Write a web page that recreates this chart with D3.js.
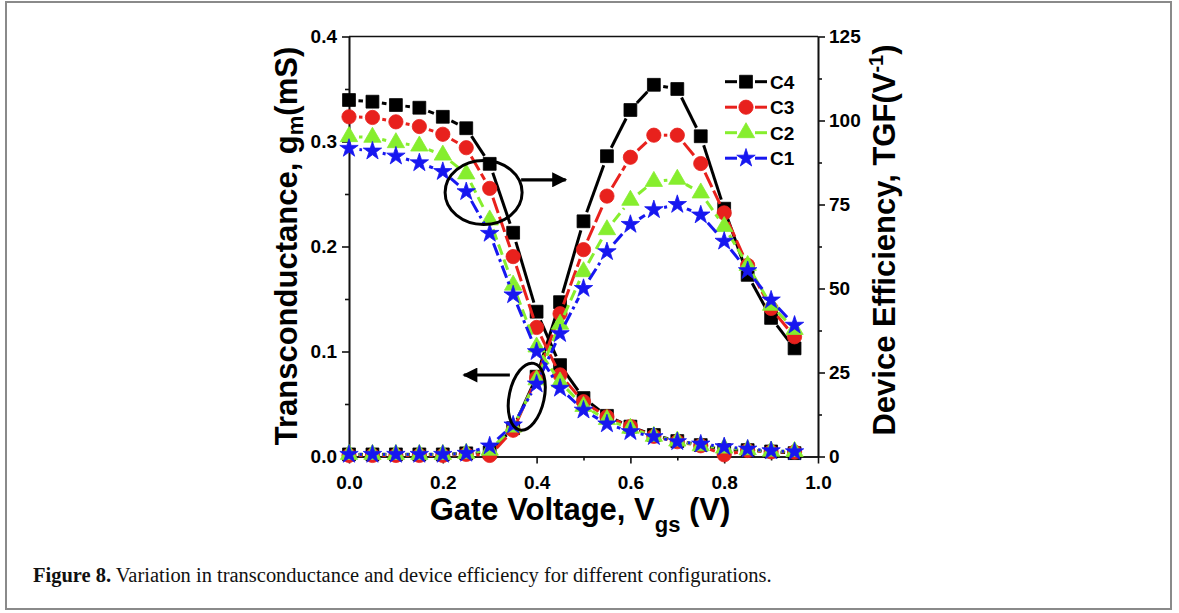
<!DOCTYPE html>
<html>
<head>
<meta charset="utf-8">
<script src="https://cdn.jsdelivr.net/npm/d3@7"></script>
<style>
  html, body { margin: 0; padding: 0; background: #fff; }
  svg { display: block; }
  text.sans { font-family: "Liberation Sans", Arial, sans-serif; }
</style>
</head>
<body>
<svg id="chart" width="1179" height="613"></svg>
<script>
// ---------------- data ----------------
const gateVoltage = [0.00, 0.05, 0.10, 0.15, 0.20, 0.25, 0.30, 0.35, 0.40, 0.45,
                     0.50, 0.55, 0.60, 0.65, 0.70, 0.75, 0.80, 0.85, 0.90, 0.95];

const configNames = ["C4", "C3", "C2", "C1"];

// transconductance gm (mS), left axis
const gmC4 = [0.002, 0.002, 0.002, 0.002, 0.002, 0.003, 0.004, 0.027, 0.076, 0.147,
              0.224, 0.286, 0.330, 0.354, 0.350, 0.305, 0.236, 0.173, 0.132, 0.103];
const gmC3 = [0.001, 0.001, 0.001, 0.001, 0.001, 0.002, 0.001, 0.025, 0.075, 0.136,
              0.197, 0.248, 0.285, 0.306, 0.306, 0.279, 0.232, 0.182, 0.141, 0.114];
const gmC2 = [0.002, 0.002, 0.002, 0.002, 0.002, 0.003, 0.006, 0.028, 0.073, 0.126,
              0.176, 0.216, 0.244, 0.262, 0.264, 0.251, 0.219, 0.182, 0.144, 0.121];
const gmC1 = [0.002, 0.002, 0.002, 0.002, 0.002, 0.003, 0.010, 0.030, 0.069, 0.117,
              0.160, 0.195, 0.221, 0.235, 0.240, 0.230, 0.205, 0.177, 0.149, 0.125];

// device efficiency TGF (1/V), right axis
const tgfC4 = [106.1, 105.6, 104.6, 103.8, 101.1, 97.7, 87.1, 66.6, 43.1, 27.2,
               17.4, 12.1, 8.9, 6.4, 4.6, 3.4, 1.9, 1.9, 1.5, 1.0];
const tgfC3 = [101.1, 100.9, 99.6, 98.2, 95.9, 91.9, 79.8, 59.5, 38.4, 24.3,
               16.3, 11.8, 8.9, 6.0, 4.4, 3.2, 0.5, 1.8, 1.4, 1.3];
const tgfC2 = [95.2, 95.0, 93.4, 92.4, 89.7, 84.1, 70.4, 51.0, 32.6, 22.2,
               14.9, 11.0, 8.4, 6.0, 4.6, 3.2, 2.5, 2.0, 1.6, 1.5];
const tgfC1 = [91.7, 90.9, 89.4, 87.4, 84.8, 78.8, 66.4, 48.1, 31.2, 20.3,
               13.8, 9.7, 7.4, 5.9, 4.4, 3.7, 2.9, 2.2, 1.7, 1.4];

// tick labels
const xTicks = [0.0, 0.2, 0.4, 0.6, 0.8, 1.0];
const xMinorTicks = [0.1, 0.3, 0.5, 0.7, 0.9];
const yLeftTicks = [0.0, 0.1, 0.2, 0.3, 0.4];
const yLeftMinorTicks = [0.05, 0.15, 0.25, 0.35];
const yRightTicks = [0, 25, 50, 75, 100, 125];
const yRightMinorTicks = [12.5, 37.5, 62.5, 87.5, 112.5];

// annotation anchors, in data units (x: V, y: gm mS)
const annoEllipseTGF = { x: 0.287, y: 0.2514 };
const annoArrowTGF = { x1: 0.367, x2: 0.462, y: 0.2635 };
const annoEllipseGm = { x: 0.379, y: 0.057 };
const annoArrowGm = { x1: 0.343, x2: 0.245, y: 0.0776 };

// ---------------- styles ----------------
const SANS = "'Liberation Sans', Arial, sans-serif";
const SERIF = "'Liberation Serif', 'Times New Roman', serif";
const styles = {
  C4: { color: "#000000", symbol: d3.symbolSquare,   size: 165, dash: null,        trim: 9.5 },
  C3: { color: "#e8211d", symbol: d3.symbolCircle,   size: 160, dash: "16,4",      trim: 10 },
  C2: { color: "#86ee2e", symbol: d3.symbolTriangle, size: 130, dash: "11,5",      trim: 10 },
  C1: { color: "#1717f0", symbol: d3.symbolStar,     size: 105, dash: "13,4,3,4",  trim: 10.5 }
};
const gmData = { C4: gmC4, C3: gmC3, C2: gmC2, C1: gmC1 };
const tgfData = { C4: tgfC4, C3: tgfC3, C2: tgfC2, C1: tgfC1 };

// ---------------- layout ----------------
const svg = d3.select("#chart");
const plotL = 349, plotR = 818, plotT = 36.5, plotB = 456.5;

const x = d3.scaleLinear().domain([0, 1]).range([plotL, plotR]);
const yL = d3.scaleLinear().domain([0, 0.4]).range([plotB, plotT]);
const yR = d3.scaleLinear().domain([0, 125]).range([plotB, plotT]);

// figure frame
svg.append("rect")
  .attr("x", 6).attr("y", 2).attr("width", 1165).attr("height", 607)
  .attr("fill", "none").attr("stroke", "#8a8a8a").attr("stroke-width", 2);

// axes
const axisColor = "#111";
function styleAxis(g, fs) {
  g.selectAll("path.domain").attr("stroke", axisColor).attr("stroke-width", 1.6);
  g.selectAll(".tick line").attr("stroke", axisColor).attr("stroke-width", 1.6);
  g.selectAll(".tick text")
    .style("font-family", SANS)
    .attr("font-weight", "bold").attr("font-size", fs).attr("fill", "#000");
}

const gx = svg.append("g").attr("transform", `translate(0,${plotB})`)
  .call(d3.axisBottom(x).tickValues(xTicks).tickFormat(d3.format(".1f"))
    .tickSize(7).tickSizeOuter(0).tickPadding(12));
styleAxis(gx, 19);
const gxm = svg.append("g").attr("transform", `translate(0,${plotB})`)
  .call(d3.axisBottom(x).tickValues(xMinorTicks).tickFormat("").tickSize(4).tickSizeOuter(0));
styleAxis(gxm, 19);

const gl = svg.append("g").attr("transform", `translate(${plotL},0)`)
  .call(d3.axisLeft(yL).tickValues(yLeftTicks).tickFormat(d3.format(".1f"))
    .tickSize(7).tickSizeOuter(0).tickPadding(5));
styleAxis(gl, 19);
const glm = svg.append("g").attr("transform", `translate(${plotL},0)`)
  .call(d3.axisLeft(yL).tickValues(yLeftMinorTicks).tickFormat("").tickSize(4).tickSizeOuter(0));
styleAxis(glm, 19);

const gr = svg.append("g").attr("transform", `translate(${plotR},0)`)
  .call(d3.axisRight(yR).tickValues(yRightTicks).tickFormat(d3.format("d"))
    .tickSize(7).tickSizeOuter(0).tickPadding(4));
styleAxis(gr, 19);
const grm = svg.append("g").attr("transform", `translate(${plotR},0)`)
  .call(d3.axisRight(yR).tickValues(yRightMinorTicks).tickFormat("").tickSize(4).tickSizeOuter(0));
styleAxis(grm, 19);

// top frame line
svg.append("line")
  .attr("x1", plotL).attr("x2", plotR).attr("y1", plotT).attr("y2", plotT)
  .attr("stroke", axisColor).attr("stroke-width", 1.6);

// ---------------- series ----------------
function trimmedSegments(pts, trim) {
  return d3.pairs(pts).map(([a, b]) => {
    const dx = b[0] - a[0], dy = b[1] - a[1];
    const L = Math.hypot(dx, dy);
    if (L <= 2 * trim + 0.5) return null;
    const ux = dx / L, uy = dy / L;
    return [a[0] + ux * trim, a[1] + uy * trim, b[0] - ux * trim, b[1] - uy * trim];
  }).filter(Boolean);
}

function drawSeries(name, values, yScale) {
  const st = styles[name];
  const pts = gateVoltage.map((v, i) => [x(v), yScale(values[i])]);
  const g = svg.append("g").attr("class", "series " + name);
  g.selectAll("line.seg").data(trimmedSegments(pts, st.trim)).join("line")
    .attr("class", "seg")
    .attr("x1", d => d[0]).attr("y1", d => d[1])
    .attr("x2", d => d[2]).attr("y2", d => d[3])
    .attr("stroke", st.color).attr("stroke-width", 3)
    .attr("stroke-dasharray", st.dash);
  g.selectAll("path.mark").data(pts).join("path")
    .attr("class", "mark")
    .attr("transform", d => `translate(${d[0]},${d[1]})`)
    .attr("d", d3.symbol().type(st.symbol).size(st.size))
    .attr("fill", st.color).attr("stroke", st.color).attr("stroke-width", 0.8);
}

configNames.forEach(name => {
  drawSeries(name, gmData[name], yL);
  drawSeries(name, tgfData[name], yR);
});

// ---------------- annotations ----------------
svg.append("defs").append("marker")
  .attr("id", "arrowhead").attr("viewBox", "0 0 10 10")
  .attr("refX", 9).attr("refY", 5)
  .attr("markerUnits", "userSpaceOnUse")
  .attr("markerWidth", 26).attr("markerHeight", 15)
  .attr("orient", "auto")
  .append("path").attr("d", "M0,0 L10,5 L0,10 Z").attr("fill", "#000");

svg.append("ellipse")
  .attr("cx", x(annoEllipseTGF.x)).attr("cy", yL(annoEllipseTGF.y))
  .attr("rx", 38.5).attr("ry", 32)
  .attr("fill", "none").attr("stroke", "#000").attr("stroke-width", 3);
svg.append("line")
  .attr("x1", x(annoArrowTGF.x1)).attr("x2", x(annoArrowTGF.x2))
  .attr("y1", yL(annoArrowTGF.y)).attr("y2", yL(annoArrowTGF.y))
  .attr("stroke", "#000").attr("stroke-width", 3.2)
  .attr("marker-end", "url(#arrowhead)");

svg.append("ellipse")
  .attr("cx", 0).attr("cy", 0).attr("rx", 17.5).attr("ry", 34)
  .attr("transform", `translate(${x(annoEllipseGm.x)},${yL(annoEllipseGm.y)}) rotate(12)`)
  .attr("fill", "none").attr("stroke", "#000").attr("stroke-width", 3);
svg.append("line")
  .attr("x1", x(annoArrowGm.x1)).attr("x2", x(annoArrowGm.x2))
  .attr("y1", yL(annoArrowGm.y)).attr("y2", yL(annoArrowGm.y))
  .attr("stroke", "#000").attr("stroke-width", 3.2)
  .attr("marker-end", "url(#arrowhead)");

// ---------------- legend ----------------
const legendX = 725, legendY0 = 81.7, legendDY = 25.5;
const leg = svg.append("g").attr("class", "legend");
configNames.forEach((name, i) => {
  const st = styles[name];
  const yy = legendY0 + i * legendDY;
  leg.append("line").attr("x1", legendX).attr("x2", legendX + 12)
    .attr("y1", yy).attr("y2", yy).attr("stroke", st.color).attr("stroke-width", 3);
  leg.append("line").attr("x1", legendX + 30).attr("x2", legendX + 42)
    .attr("y1", yy).attr("y2", yy).attr("stroke", st.color).attr("stroke-width", 3);
  leg.append("path").attr("transform", `translate(${legendX + 21},${yy})`)
    .attr("d", d3.symbol().type(st.symbol).size(st.size))
    .attr("fill", st.color).attr("stroke", st.color).attr("stroke-width", 0.8);
  leg.append("text").attr("x", legendX + 45).attr("y", yy).attr("dy", "0.36em")
    .style("font-family", SANS)
    .attr("font-weight", "bold").attr("font-size", 19).text(name);
});

// ---------------- axis titles ----------------
const xt = svg.append("text").attr("x", 580).attr("y", 520)
  .style("font-family", SANS)
  .attr("text-anchor", "middle").attr("font-weight", "bold").attr("font-size", 31);
xt.append("tspan").text("Gate Voltage, V");
xt.append("tspan").attr("font-size", 22).attr("dy", 12).text("gs");
xt.append("tspan").attr("dy", -12).text(" (V)");

const ylt = svg.append("text")
  .style("font-family", SANS)
  .attr("transform", "translate(297,246) rotate(-90)")
  .attr("text-anchor", "middle").attr("font-weight", "bold").attr("font-size", 31);
ylt.append("tspan").text("Transconductance, g");
ylt.append("tspan").attr("font-size", 22).attr("dy", 6).text("m");
ylt.append("tspan").attr("dy", -6).text("(mS)");

const yrt = svg.append("text")
  .style("font-family", SANS)
  .attr("transform", "translate(895,240) rotate(-90)")
  .attr("text-anchor", "middle").attr("font-weight", "bold").attr("font-size", 31);
yrt.append("tspan").text("Device Efficiency, TGF(V");
yrt.append("tspan").attr("font-size", 20).attr("dy", -12).text("-1");
yrt.append("tspan").attr("dy", 12).text(")");

// ---------------- caption ----------------
const cap = svg.append("text").attr("x", 33).attr("y", 582)
  .style("font-family", SERIF)
  .attr("font-size", 18).attr("fill", "#111");
cap.append("tspan").attr("font-weight", "bold").text("Figure 8.");
cap.append("tspan").text(" Variation in transconductance and device efficiency for different configurations.");
const capW = cap.node().getComputedTextLength();
cap.attr("font-size", 18 * 739 / capW);
</script>
</body>
</html>
